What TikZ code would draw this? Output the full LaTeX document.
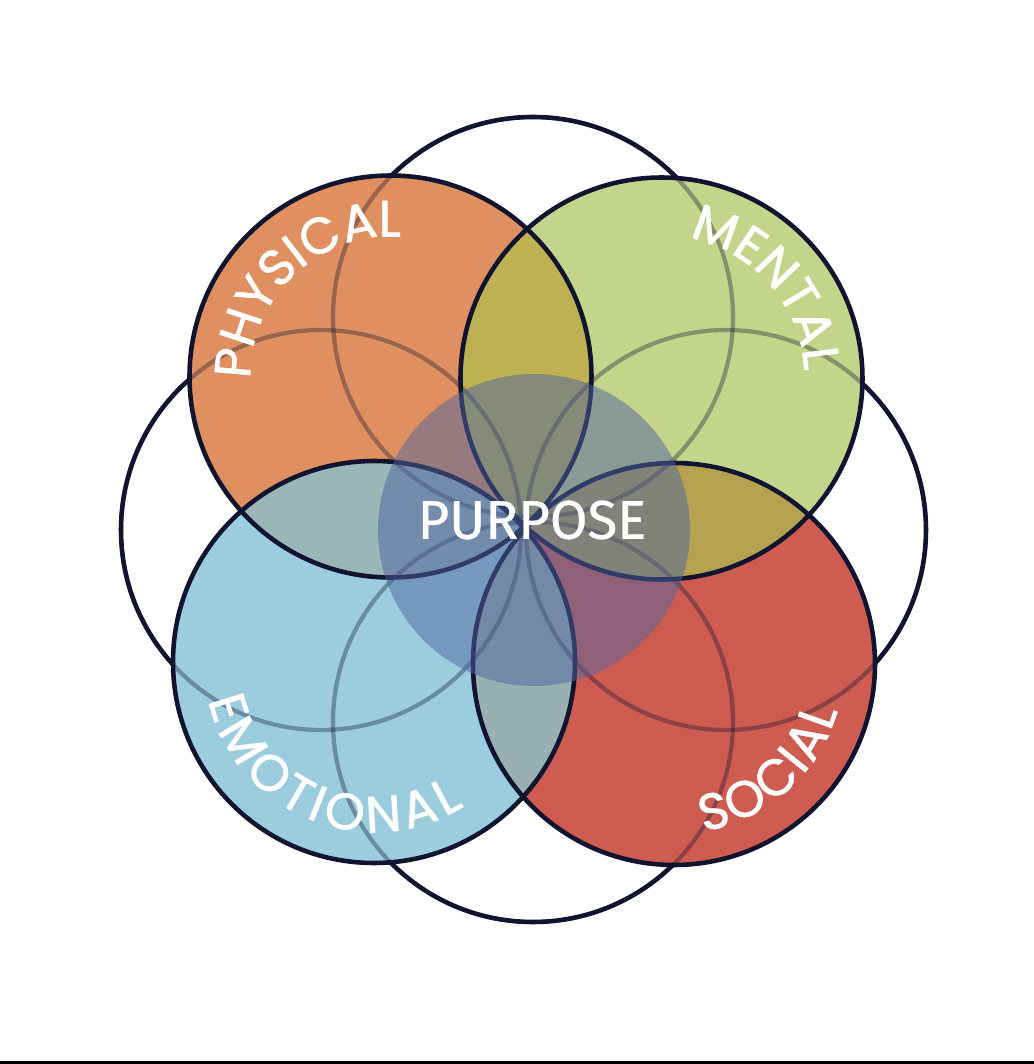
\documentclass[tikz,border=0pt]{standalone}
\usepackage{fontspec}
\usetikzlibrary{decorations.text}
\usepackage{xcolor}
\newfontfamily\labfont{Poppins}[FakeBold=1.2]
\newfontfamily\hubfont{Fira Sans}[FakeBold=0.6]
\definecolor{navy}{HTML}{11142E}
\definecolor{physcol}{HTML}{E08F60}
\definecolor{mentcol}{HTML}{C5D48B}
\definecolor{emotcol}{HTML}{9BCDDF}
\definecolor{soccol}{HTML}{CF5C51}
\definecolor{pmcol}{HTML}{BDB153}
\definecolor{pecol}{HTML}{9AB6B7}
\definecolor{mscol}{HTML}{B4A250}
\definecolor{escol}{HTML}{98B0B1}
\definecolor{hubcol}{HTML}{5064A0}

\begin{document}
\begin{tikzpicture}

		\tikzset{ring/.style = {draw=navy,line width=1.3pt}}
		\tikzset{faint/.style = {draw=navy,line width=1.2pt,opacity=.35}}
		\tikzset{hub/.style = {shape=circle,fill=hubcol,fill opacity=.5,inner sep=0pt,minimum size=3.12cm}}
		\tikzset{hubtext/.style = {text=white,font=\hubfont\fontsize{15.5}{18}\selectfont}}
		\tikzset{arctext/.style = {decorate,decoration={text along path,text align={fit to path},text color=white}}}
		\useasboundingbox (0,0) rectangle (10.34,10.64);
		\fill[black] (0,0) rectangle (10.34,0.03);
		\coordinate (ringN) at (5.33,7.47);
		\coordinate (ringS) at (5.33,3.42);
		\coordinate (ringW) at (3.21,5.34);
		\coordinate (ringE) at (7.26,5.34);
		\coordinate (phys) at (3.905,6.875);
		\coordinate (ment) at (6.615,6.855);
		\coordinate (emot) at (3.74,4.02);
		\coordinate (soc) at (6.74,4.00);
		%outer rings
		\foreach \c in {ringN,ringS,ringW,ringE}
			\draw[ring] (\c) circle (2);
		%petals
		\fill[physcol] (phys) circle (2.01);
		\fill[mentcol] (ment) circle (2.01);
		\fill[emotcol] (emot) circle (2.01);
		\fill[soccol] (soc) circle (2.01);
		%overlaps
		\begin{scope}
			\clip (phys) circle (2.01);
			\fill[pmcol] (ment) circle (2.01);
			\fill[pecol] (emot) circle (2.01);
		\end{scope}
		\begin{scope}
			\clip (soc) circle (2.01);
			\fill[mscol] (ment) circle (2.01);
			\fill[escol] (emot) circle (2.01);
		\end{scope}
		\foreach \c in {ringN,ringS,ringW,ringE}
			\draw[faint] (\c) circle (2);
		\foreach \c in {phys,ment,emot,soc}
			\draw[ring] (\c) circle (2.01);
		%centre
		\node[hub] (hub) at (5.34,5.34) {};
		\node[hubtext] (purpose) at (5.32,5.44) {PURPOSE};
		%labels
		\path[arctext,shift={(phys)},decoration={text={|\labfont\fontsize{14.5}{17}\selectfont|PHYSICAL}}]
			(181:1.4) arc[start angle=181,end angle=89,radius=1.4];
		\path[arctext,shift={(ment)},decoration={text={|\labfont\fontsize{14.5}{17}\selectfont|MENTAL}}]
			(79:1.43) arc[start angle=79,end angle=4,radius=1.43];
		\path[arctext,shift={(emot)},decoration={text={|\labfont\fontsize{14.5}{17}\selectfont|EMOTIONAL}}]
			(193:1.7) arc[start angle=193,end angle=302,radius=1.7];
		\path[arctext,shift={(soc)},decoration={text={|\labfont\fontsize{14.5}{17}\selectfont|SOCIAL}}]
			(280:1.7) arc[start angle=280,end angle=344,radius=1.7];
\end{tikzpicture}
\end{document}
